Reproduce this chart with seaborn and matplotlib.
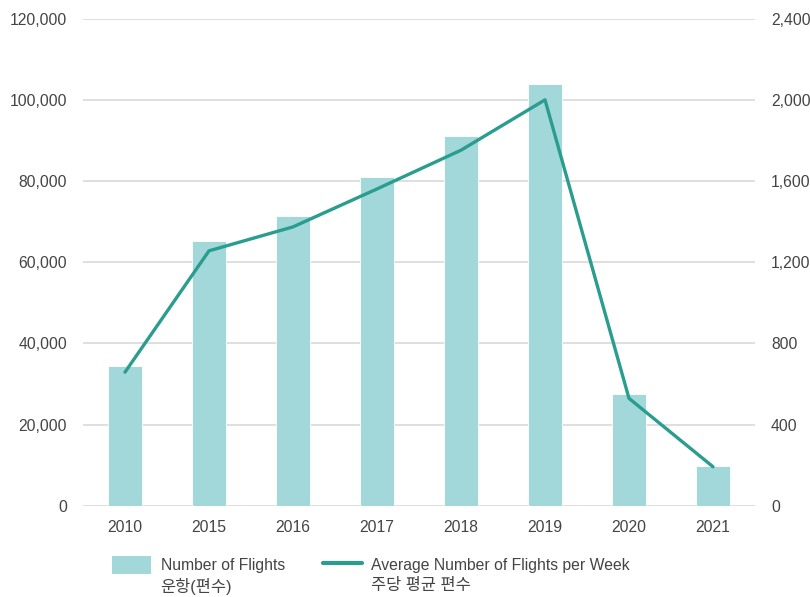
import matplotlib
matplotlib.use("Agg")
import matplotlib.pyplot as plt
import seaborn as sns
import pandas as pd
from matplotlib.ticker import FuncFormatter
from matplotlib.patches import Patch
from matplotlib.lines import Line2D

years = ["2010", "2015", "2016", "2017", "2018", "2019", "2020", "2021"]
flights = [34300, 65200, 71300, 81000, 91000, 103900, 27500, 9900]
weekly_avg = [658, 1256, 1374, 1561, 1752, 2000, 529, 192]
bar_label = "Number of Flights"
bar_label_ko = "운항(편수)"
line_label = "Average Number of Flights per Week"
line_label_ko = "주당 평균 편수"

sns.set_theme(style="white")
fam = ["Liberation Sans", "Noto Sans CJK KR", "DejaVu Sans"]
plt.rcParams["font.family"] = fam

bar_color = "#a3d8da"
line_color = "#2a9d8f"
text_color = "#444444"
grid_color = "#d9d9d9"
fs = 11.3

df = pd.DataFrame({"year": years, "flights": flights, "avg": weekly_avg})

fig = plt.figure(figsize=(8.1, 5.97), dpi=100)
ax = fig.add_axes([83/810, 1-505.7/597, (755-83)/810, (505.7-18.7)/597])

sns.barplot(data=df, x="year", y="flights", color=bar_color, width=0.4,
            saturation=1, ax=ax, zorder=2, edgecolor="white", linewidth=0.6)
ax.set_ylim(0, 120000)
ax.set_yticks(range(0, 120001, 20000))
ax.yaxis.set_major_formatter(FuncFormatter(lambda v, p: f"{int(v):,}"))
ax.set_xlim(-0.5, len(years) - 0.5)
ax.grid(axis="y", color=grid_color, linewidth=1.2, zorder=0)
ax.set_axisbelow(True)
ax.set_xlabel("")
ax.set_ylabel("")
for s in ax.spines.values():
    s.set_visible(False)
ax.tick_params(axis="both", length=0, labelsize=fs, colors=text_color)
ax.tick_params(axis="y", pad=11.5)
ax.tick_params(axis="x", pad=10)

ax2 = ax.twinx()
sns.lineplot(data=df, x="year", y="avg", color=line_color, linewidth=2.4,
             ax=ax2, zorder=3, sort=False)
ax2.set_ylim(0, 2400)
ax2.set_yticks(range(0, 2401, 400))
ax2.yaxis.set_major_formatter(FuncFormatter(lambda v, p: f"{int(v):,}"))
ax2.set_xlim(-0.5, len(years) - 0.5)
ax2.set_ylabel("")
for s in ax2.spines.values():
    s.set_visible(False)
ax2.tick_params(axis="y", length=0, labelsize=fs, colors=text_color, pad=11.5)

handles = [Patch(facecolor=bar_color, edgecolor="none"),
           Line2D([], [], color=line_color, linewidth=3)]
leg = fig.legend(handles, [bar_label, line_label], ncol=2, frameon=False,
                 loc="upper left", bbox_to_anchor=(101/810, 1-545/597),
                 fontsize=fs, handlelength=2.5, handleheight=1.35,
                 handletextpad=0.6, columnspacing=2.4, borderpad=0.2)
for t in leg.get_texts():
    t.set_color(text_color)

# Korean second lines under each legend label
fig.canvas.draw()
inv = fig.transFigure.inverted()
for t, ko in zip(leg.get_texts(), [bar_label_ko, line_label_ko]):
    bb = t.get_window_extent()
    x0, y0 = inv.transform((bb.x0, bb.y0 - 5))
    fig.text(x0, y0, ko, ha="left", va="top", fontsize=11.8,
             color=text_color, family=fam)

fig.savefig("out.png", dpi=100)
